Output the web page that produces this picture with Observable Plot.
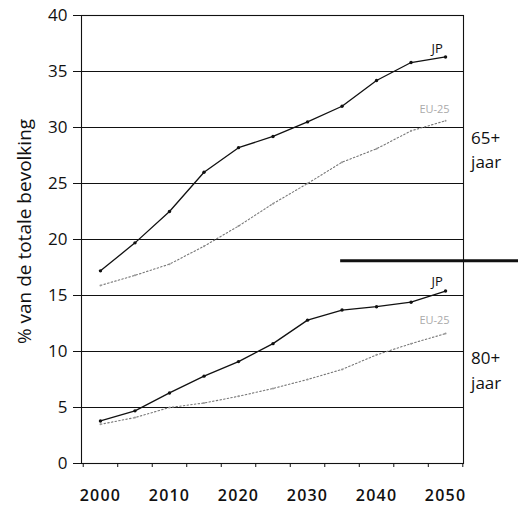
<!DOCTYPE html>
<html><head><meta charset="utf-8">
<script src="https://cdn.jsdelivr.net/npm/d3@7"></script>
<script src="https://cdn.jsdelivr.net/npm/@observablehq/plot@0.6"></script>
<style>body{margin:0;background:#fff;} #chart svg{display:block;}</style>
</head><body><div id="chart"></div>
<script>
// Data
const years = [2000, 2005, 2010, 2015, 2020, 2025, 2030, 2035, 2040, 2045, 2050];
const jp65 = [17.2, 19.7, 22.5, 26.0, 28.2, 29.2, 30.5, 31.9, 34.2, 35.8, 36.3];
const eu65 = [15.9, 16.8, 17.8, 19.4, 21.2, 23.2, 25.0, 26.9, 28.1, 29.7, 30.6];
const jp80 = [3.8, 4.7, 6.3, 7.8, 9.1, 10.7, 12.8, 13.7, 14.0, 14.4, 15.4];
const eu80 = [3.5, 4.1, 5.0, 5.4, 6.0, 6.7, 7.5, 8.4, 9.7, 10.7, 11.6];

const yTicks = [0, 5, 10, 15, 20, 25, 30, 35, 40];
const xTickLabels = [2000, 2010, 2020, 2030, 2040, 2050];
const xTickMarks = [1997.5, 2002.5, 2007.5, 2012.5, 2017.5, 2022.5, 2027.5, 2032.5, 2037.5, 2042.5, 2047.5, 2052.5];
const yTitle = "% van de totale bevolking";

// annotation texts anchored in data units
const seriesLabelText = ["JP", "EU-25", "JP", "EU-25"];
const seriesLabelX = [2048.8, 2048.4, 2048.8, 2048.4];
const seriesLabelY = [37.0, 31.6, 16.2, 12.8];
const seriesLabelKind = ["jp", "eu", "jp", "eu"];

const groupLabelText = ["65+", "jaar", "80+", "jaar"];
const groupLabelX = [2053.7, 2053.7, 2053.7, 2053.7];
const groupLabelY = [29.0, 26.9, 9.4, 7.1];

const separatorY = [18.1];
const separatorX1 = 2034.8, separatorX2 = 2060.8;

const toRows = (vals, series) => years.map((y, i) => ({year: y, value: vals[i], series}));
const jpRows = [...toRows(jp65, "JP65"), ...toRows(jp80, "JP80")];
const euRows = [...toRows(eu65, "EU65"), ...toRows(eu80, "EU80")];
const seriesLabels = seriesLabelText.map((t, i) => ({text: t, x: seriesLabelX[i], y: seriesLabelY[i], kind: seriesLabelKind[i]}));
const groupLabels = groupLabelText.map((t, i) => ({text: t, x: groupLabelX[i], y: groupLabelY[i]}));

const font = "'Open Sans', 'DejaVu Sans', sans-serif";

const chart = Plot.plot({
  width: 518,
  height: 507,
  marginLeft: 81,
  marginRight: 55,
  marginTop: 15,
  marginBottom: 44,
  style: {fontFamily: font, background: "#fff", color: "#111", overflow: "visible"},
  x: {domain: [1997.25, 2052.6]},
  y: {domain: [0, 40]},
  marks: [
    Plot.ruleY(yTicks, {stroke: "#111", strokeWidth: 1.1}),
    Plot.frame({stroke: "#111", strokeWidth: 1.1}),
    Plot.axisY(yTicks, {tickSize: 8, tickPadding: 6, fontSize: 17, label: null, stroke: "#111"}),
    Plot.axisX(xTickLabels, {tickSize: 0, tickPadding: 26, fontSize: 16, fontWeight: 600, label: null, tickFormat: d => String(d)}),
    Plot.axisX(xTickMarks, {tickSize: 4, tickFormat: () => "", label: null, stroke: "#111"}),
    Plot.text([yTitle], {frameAnchor: "left", textAnchor: "middle", rotate: -90, dx: -57, dy: -8, fontSize: 19, fill: "#111"}),
    Plot.line(euRows, {x: "year", y: "value", z: "series", stroke: "#777", strokeWidth: 1.1, strokeDasharray: "1.5 2.2"}),
    Plot.dot(euRows, {x: "year", y: "value", r: 1, fill: "#999"}),
    Plot.line(jpRows, {x: "year", y: "value", z: "series", stroke: "#111", strokeWidth: 1.3}),
    Plot.dot(jpRows, {x: "year", y: "value", r: 1.7, fill: "#111"}),
    Plot.text(seriesLabels.filter(d => d.kind === "jp"), {x: "x", y: "y", text: "text", fontSize: 13, fill: "#111"}),
    Plot.text(seriesLabels.filter(d => d.kind === "eu"), {x: "x", y: "y", text: "text", fontSize: 11, fill: "#aaa"}),
    Plot.text(groupLabels, {x: "x", y: "y", text: "text", textAnchor: "start", fontSize: 17, fill: "#111"}),
    Plot.ruleY(separatorY, {x1: separatorX1, x2: separatorX2, stroke: "#111", strokeWidth: 3})
  ]
});
document.getElementById("chart").appendChild(chart);
d3.select(chart).selectAll('g[aria-label="x-axis tick label"] text').attr("letter-spacing", "1.2");
</script>
</body></html>
